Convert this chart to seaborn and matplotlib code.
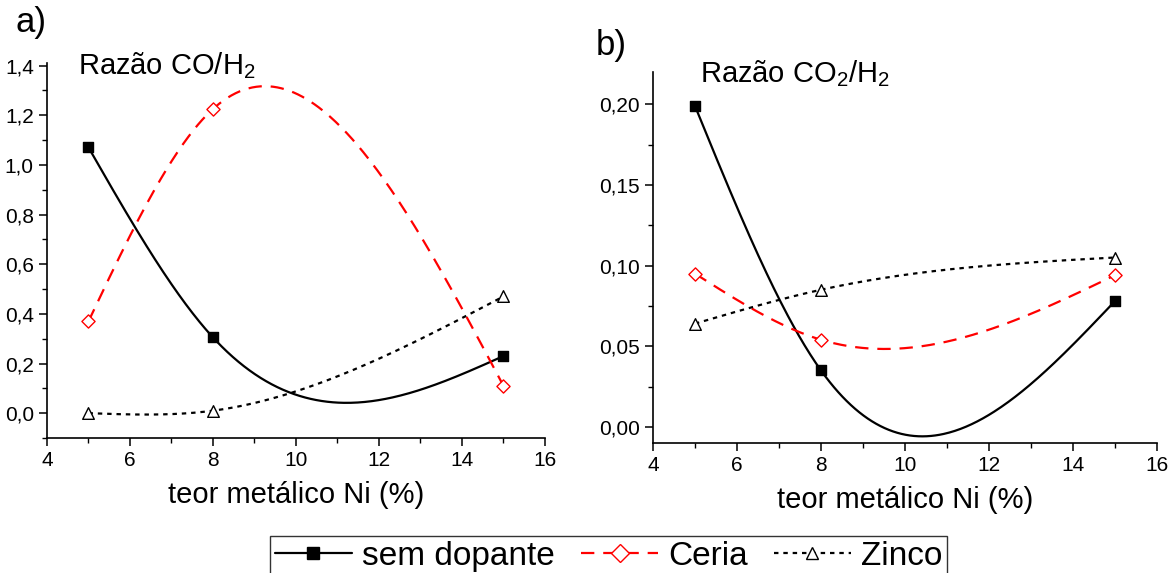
import numpy as np
import pandas as pd
import matplotlib
matplotlib.use("Agg")
import matplotlib.pyplot as plt
from matplotlib.lines import Line2D
from matplotlib.ticker import MultipleLocator, FuncFormatter
import seaborn as sns

sns.set_theme(style="ticks")
plt.rcParams['font.family'] = ['Liberation Sans', 'DejaVu Sans']
plt.rcParams['mathtext.fontset'] = 'custom'
plt.rcParams['mathtext.rm'] = 'Liberation Sans'
plt.rcParams['mathtext.it'] = 'Liberation Sans'
plt.rcParams['text.color'] = 'black'
plt.rcParams['axes.labelcolor'] = 'black'

# ---- data ----
ni = [5, 8, 15]
series = ["sem dopante", "Ceria", "Zinco"]
co_h2_sem = [1.07, 0.305, 0.23]
co_h2_ceria = [0.37, 1.225, 0.11]
co_h2_zinco = [0.0, 0.01, 0.47]
co2_h2_sem = [0.199, 0.035, 0.078]
co2_h2_ceria = [0.095, 0.054, 0.094]
co2_h2_zinco = [0.064, 0.085, 0.105]

styles = {
    "sem dopante": dict(color="black", ls="-", marker="s", mfc="black", lw=1.6, dashes=None),
    "Ceria": dict(color="red", ls="--", marker="D", mfc="white", lw=1.6, dashes=(6, 4)),
    "Zinco": dict(color="black", ls=":", marker="^", mfc="white", lw=1.6, dashes=(2, 2.2)),
}
msize = {"sem dopante": 55, "Ceria": 45, "Zinco": 70}


def natural_spline(x, y, n=300):
    """Natural cubic spline through the data points (smooth connector)."""
    x = np.asarray(x, float)
    y = np.asarray(y, float)
    k = len(x)
    h = np.diff(x)
    A = np.zeros((k, k))
    b = np.zeros(k)
    A[0, 0] = A[-1, -1] = 1
    for i in range(1, k - 1):
        A[i, i - 1] = h[i - 1]
        A[i, i] = 2 * (h[i - 1] + h[i])
        A[i, i + 1] = h[i]
        b[i] = 6 * ((y[i + 1] - y[i]) / h[i] - (y[i] - y[i - 1]) / h[i - 1])
    M = np.linalg.solve(A, b)
    xs = np.linspace(x[0], x[-1], n)
    ys = np.empty_like(xs)
    for j, t in enumerate(xs):
        i = min(np.searchsorted(x, t, side="right") - 1, k - 2)
        hi = h[i]
        a1 = x[i + 1] - t
        a2 = t - x[i]
        ys[j] = (M[i] * a1 ** 3 + M[i + 1] * a2 ** 3) / (6 * hi) \
            + (y[i] / hi - M[i] * hi / 6) * a1 + (y[i + 1] / hi - M[i + 1] * hi / 6) * a2
    return xs, ys


fig = plt.figure(figsize=(11.75, 5.73), dpi=100)
ax1 = fig.add_axes([0.040, 0.2356, 0.4238, 0.6544])
ax2 = fig.add_axes([0.5557, 0.2269, 0.4290, 0.6474])


def comma(dec):
    return FuncFormatter(lambda v, p: f"{v:.{dec}f}".replace(".", ","))


def draw(ax, data):
    for name, ys in zip(series, data):
        st = styles[name]
        xs, yc = natural_spline(ni, ys)
        curve = pd.DataFrame({"x": xs, "y": yc})
        sns.lineplot(data=curve, x="x", y="y", ax=ax, color=st["color"], lw=st["lw"])
        l = ax.lines[-1]
        if st["dashes"] is not None:
            l.set_dashes(st["dashes"])
        pts = pd.DataFrame({"x": ni, "y": ys})
        sns.scatterplot(data=pts, x="x", y="y", ax=ax, marker=st["marker"], s=msize[name],
                        facecolor=st["mfc"], edgecolor=st["color"], linewidth=1.0, zorder=5)


draw(ax1, [co_h2_sem, co_h2_ceria, co_h2_zinco])
draw(ax2, [co2_h2_sem, co2_h2_ceria, co2_h2_zinco])

for ax in (ax1, ax2):
    ax.set_xlim(4, 16)
    ax.xaxis.set_major_locator(MultipleLocator(2))
    ax.xaxis.set_minor_locator(MultipleLocator(1))
    sns.despine(ax=ax)
    for sp in ("left", "bottom"):
        ax.spines[sp].set_linewidth(1.2)
        ax.spines[sp].set_color("black")
    ax.tick_params(which="major", direction="out", length=6, width=1.1, labelsize=15, colors="black")
    ax.tick_params(which="minor", direction="out", length=3.5, width=1.0, colors="black")
    ax.set_ylabel("")
    ax.set_xlabel("teor metálico Ni (%)", fontsize=21, labelpad=8, color="black")
    ax.xaxis.set_major_formatter(FuncFormatter(lambda v, p: f"{v:.0f}"))

ax1.set_ylim(-0.1, 1.41)
ax1.yaxis.set_major_locator(MultipleLocator(0.2))
ax1.yaxis.set_minor_locator(MultipleLocator(0.1))
ax1.yaxis.set_major_formatter(comma(1))

ax2.set_ylim(-0.01, 0.22)
ax2.yaxis.set_major_locator(MultipleLocator(0.05))
ax2.yaxis.set_minor_locator(MultipleLocator(0.025))
ax2.yaxis.set_major_formatter(comma(2))

fig.text(0.013, 0.960, "a)", fontsize=25, va="center", ha="left")
fig.text(0.507, 0.920, "b)", fontsize=25, va="center", ha="left")
fig.text(0.066, 0.885, "Razão CO/H$_2$", fontsize=21, va="center", ha="left")
fig.text(0.596, 0.872, "Razão CO$_2$/H$_2$", fontsize=21, va="center", ha="left")

handles = []
for name in series:
    st = styles[name]
    h = Line2D([0], [0], color=st["color"], lw=1.6, marker=st["marker"],
               markerfacecolor=st["mfc"], markeredgecolor=st["color"], markersize=9,
               linestyle=st["ls"])
    if st["dashes"] is not None:
        h.set_dashes(st["dashes"])
    handles.append(h)
leg = fig.legend(handles, series, loc="upper center", bbox_to_anchor=(0.518, 0.0646),
                 ncol=3, fontsize=24, frameon=True, fancybox=False, edgecolor="black",
                 handlelength=2.3, columnspacing=0.8, handletextpad=0.3, borderpad=0.15,
                 borderaxespad=0)
leg.get_frame().set_linewidth(1.0)

fig.savefig("out.png", dpi=100)
